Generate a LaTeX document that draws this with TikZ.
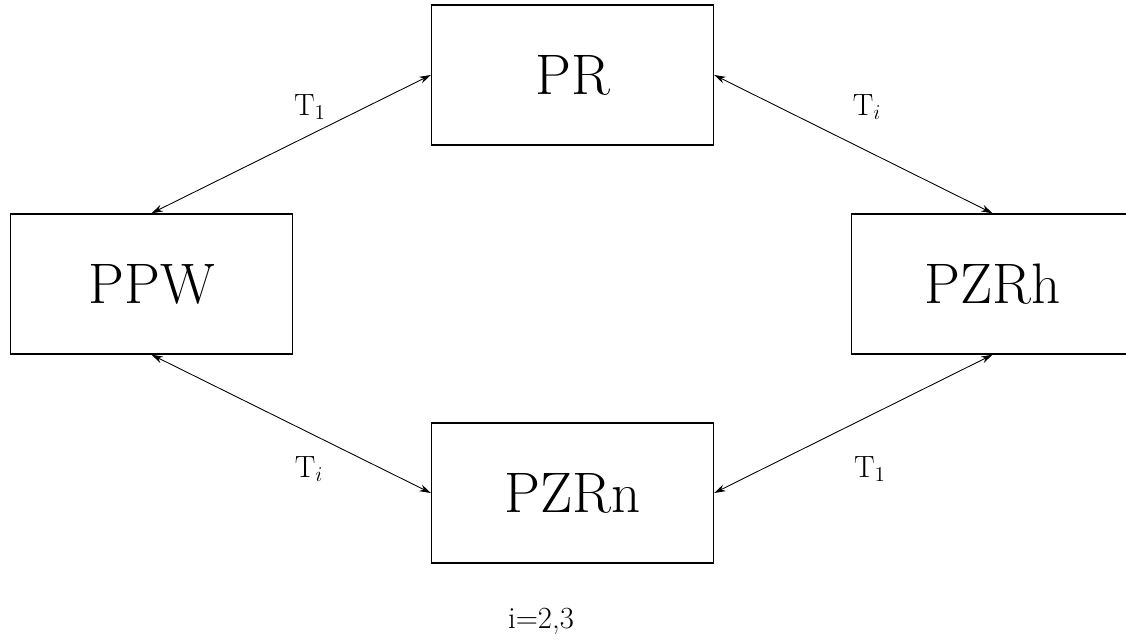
\documentclass[tikz,border=0pt]{standalone}
\usetikzlibrary{positioning, arrows.meta}
\tikzset{
	block/.style={
		rectangle,
		draw,
		line width=0.8pt,
		minimum width=5.64cm,
		minimum height=2.80cm,
		font=\fontsize{32.5}{39}\selectfont,
	},
	link/.style={
		<->,
		line width=0.5pt,
	},
	tag/.style={
		font=\fontsize{17.5}{21}\selectfont,
	},
}
\begin{document}
\begin{tikzpicture}[>={Stealth[length=6.5pt,width=4pt]}]
		\useasboundingbox (0,0) rectangle (22.52,12.82);
		% Place nodes
		\node [block] (pr) at (11.45,11.32) {PR};
		\node [block] (ppw) at (3.03,7.14) {PPW};
		\node [block] (pzrh) at (19.85,7.14) {PZRh};
		\node [block] (pzrn) at (11.45,2.96) {PZRn};
		
		\draw [link] (pr.west) to (ppw.north);
		\draw [link] (pr.east) to (pzrh.north);
		\draw [link] (ppw.south) to (pzrn.west);
		\draw [link] (pzrh.south) to (pzrn.east);
		
		\node [tag] (t1a) at (6.20,10.68) {T$_1$};
		\node [tag] (tia) at (17.34,10.68) {T$_i$};
		\node [tag] (tib) at (6.18,3.44) {T$_i$};
		\node [tag] (t1b) at (17.40,3.44) {T$_1$};
		\node [tag] (idx) at (10.82,0.40) {i=2,3};

	\end{tikzpicture}
\end{document}
